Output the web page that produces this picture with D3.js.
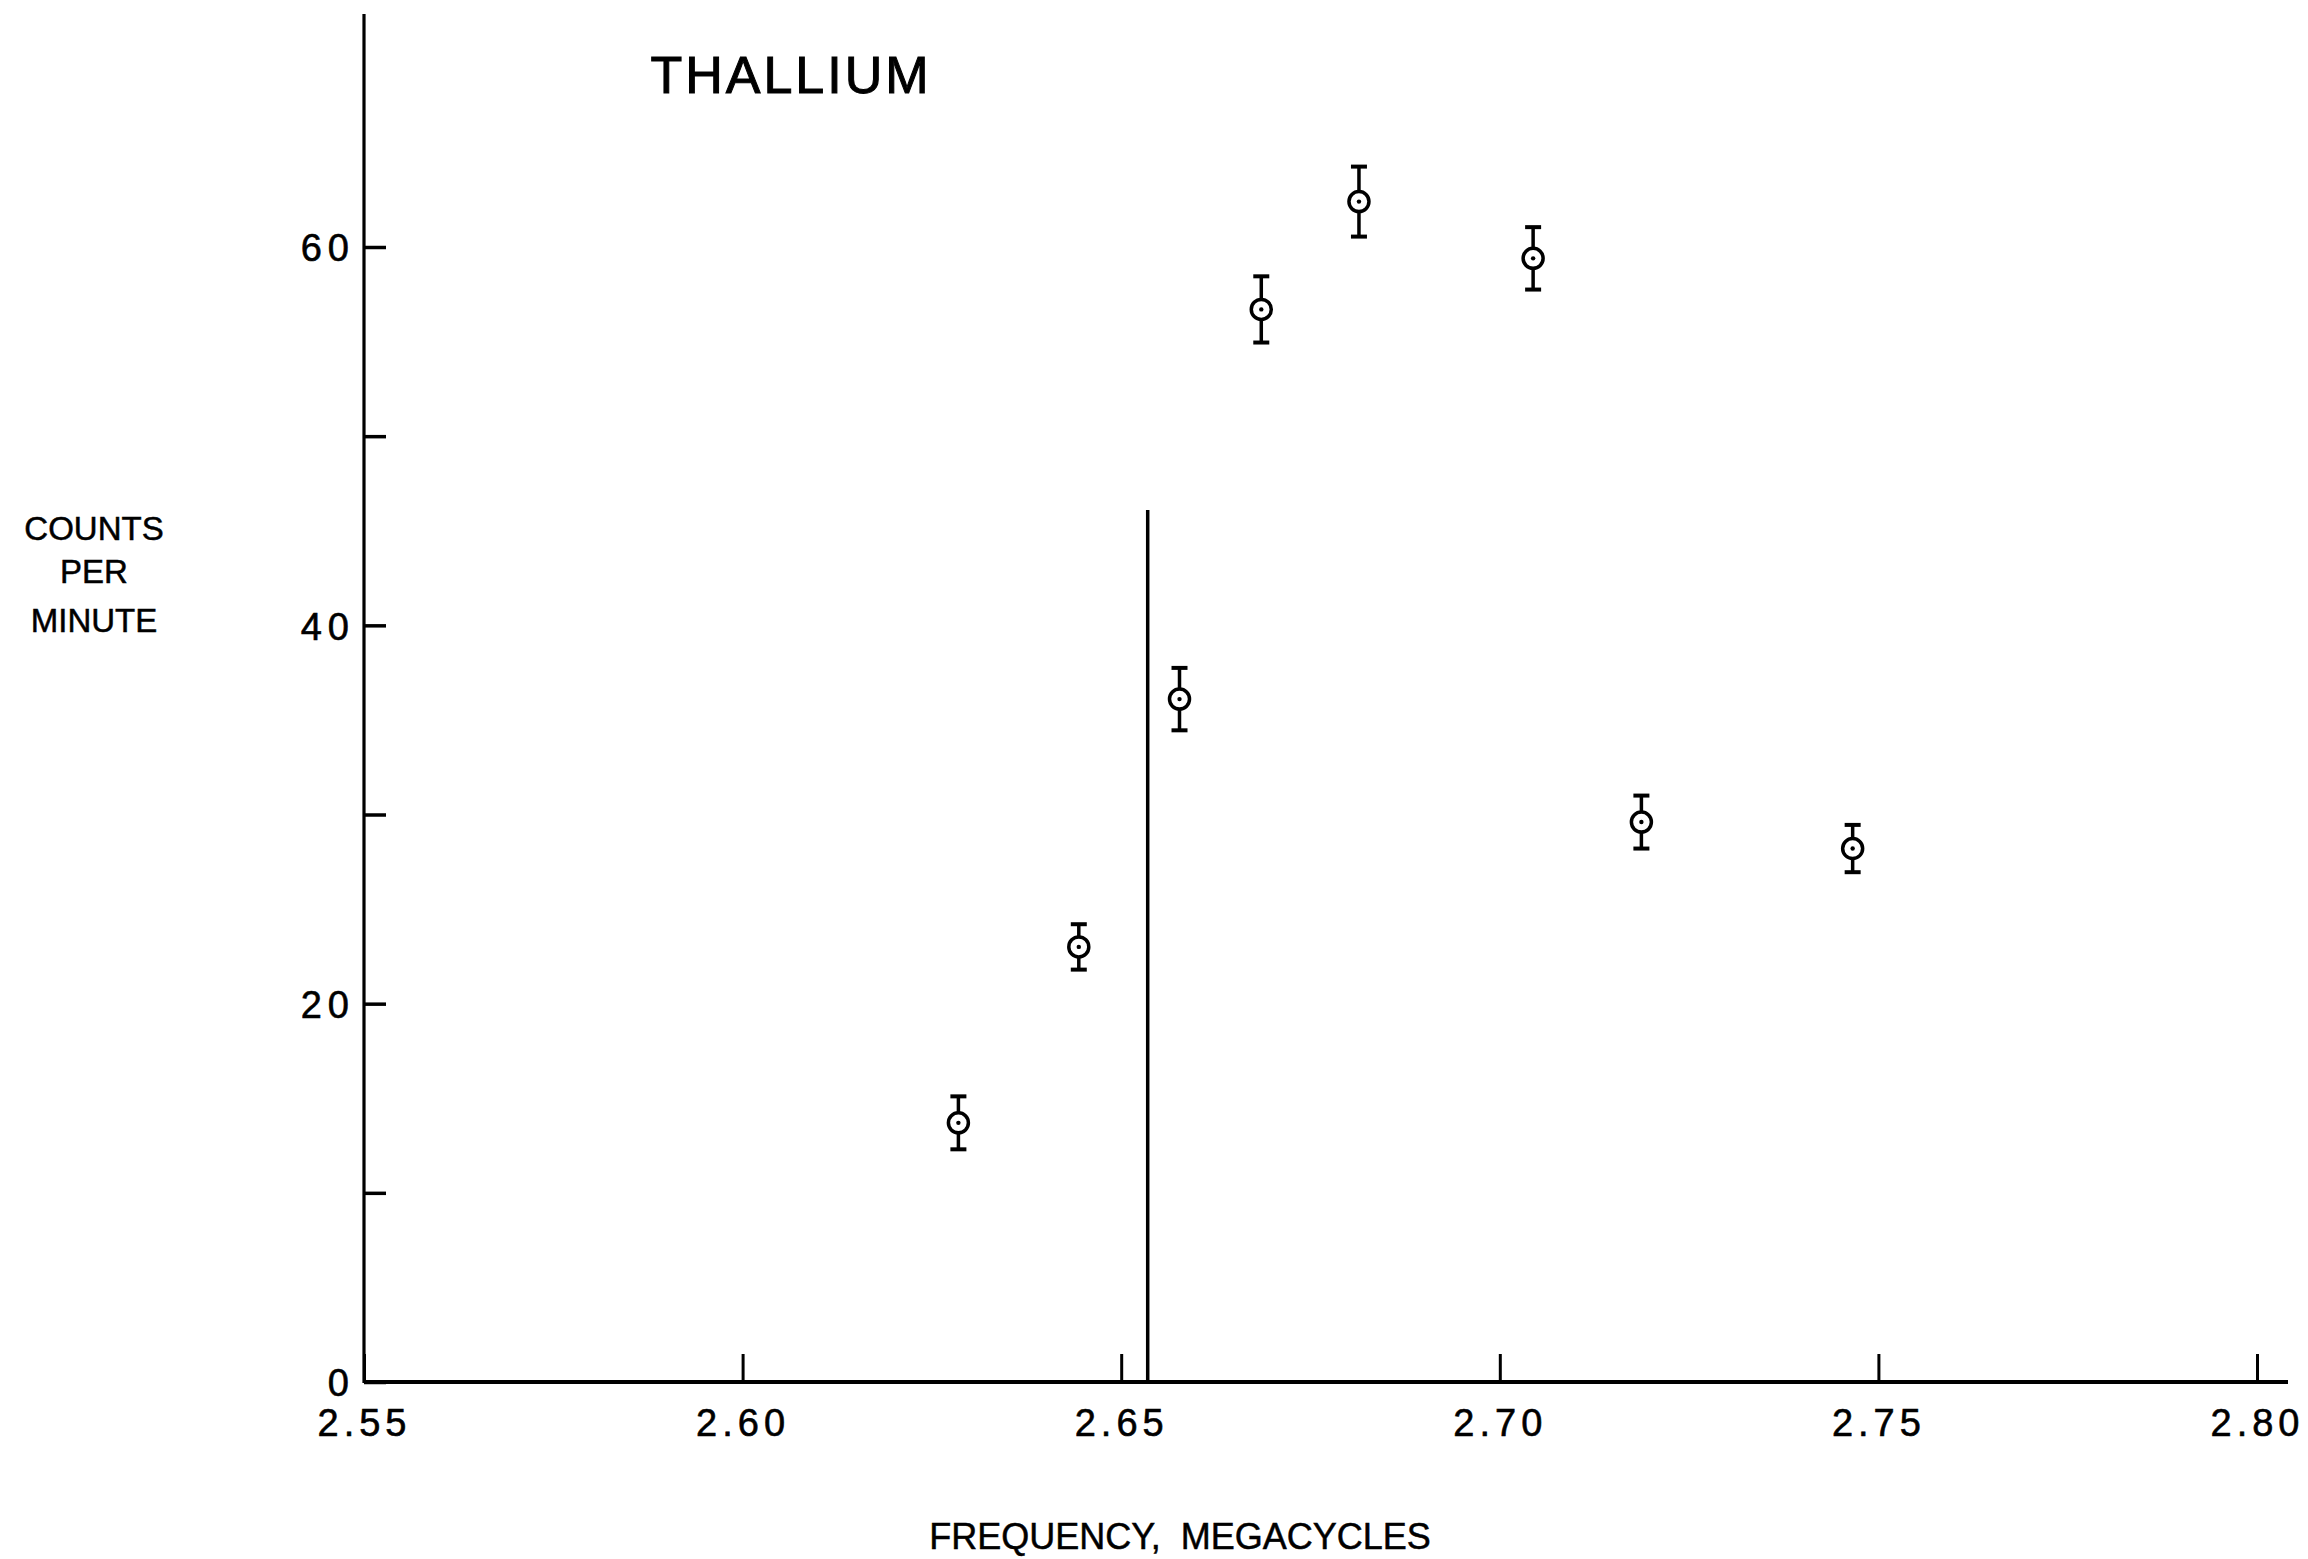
<!DOCTYPE html>
<html>
<head>
<meta charset="utf-8">
<script src="https://cdn.jsdelivr.net/npm/d3@7"></script>
<style>
  html, body { margin: 0; padding: 0; background: #fff; }
  svg { display: block; }
  text { font-family: "Liberation Sans", Arial, sans-serif; fill: #000; }
</style>
</head>
<body>
<svg id="chart" width="2308" height="1559"></svg>
<script>
// ---- data ----
const frequency = [2.6285, 2.6444, 2.6577, 2.6685, 2.6814, 2.7044, 2.7187, 2.7466];
const counts    = [13.7, 23.0, 36.1, 56.7, 62.4, 59.4, 29.6, 28.2];
const errors    = [1.4, 1.2, 1.65, 1.75, 1.85, 1.65, 1.4, 1.25];
const markerFreq = 2.6535;
const markerTop = 46.1;
const xTicks = [2.55, 2.60, 2.65, 2.70, 2.75, 2.80];
const xTickLabels = ["2.55", "2.60", "2.65", "2.70", "2.75", "2.80"];
const yTicks = [0, 10, 20, 30, 40, 50, 60];
const yTickLabels = ["0", "", "20", "", "40", "", "60"];
const title = "THALLIUM";
const yTitle = ["COUNTS", "PER", "MINUTE"];
const xTitle = "FREQUENCY,  MEGACYCLES";

// ---- scales ----
const svg = d3.select("#chart");
const x = d3.scaleLinear().domain([2.55, 2.80]).range([364, 2257]);
const y = d3.scaleLinear().domain([0, 60]).range([1382, 247]);
const xMax = x.invert(2288);
const yMax = y.invert(14);

// ---- axes ----
const xAxis = d3.axisBottom(x)
  .tickValues(xTicks)
  .tickFormat((d, i) => xTickLabels[i])
  .tickSizeInner(-28).tickSizeOuter(0).tickPadding(27);
const gx = svg.append("g").attr("transform", `translate(0,${y(0)})`).call(xAxis);
gx.select(".domain").remove();
gx.selectAll(".tick line").attr("stroke", "#000").attr("stroke-width", 3);
gx.selectAll(".tick text")
  .attr("font-size", 38).attr("letter-spacing", 5)
  .attr("fill", "#000").attr("stroke", "#000").attr("stroke-width", 0.6);
svg.append("line")
  .attr("x1", x(2.55)).attr("x2", x(xMax))
  .attr("y1", y(0)).attr("y2", y(0))
  .attr("stroke", "#000").attr("stroke-width", 4);

const yAxis = d3.axisLeft(y)
  .tickValues(yTicks)
  .tickFormat((d, i) => yTickLabels[i])
  .tickSizeInner(-22).tickSizeOuter(0).tickPadding(9);
const gy = svg.append("g").attr("transform", `translate(${x(2.55)},0)`).call(yAxis);
gy.select(".domain").remove();
gy.selectAll(".tick line").attr("stroke", "#000").attr("stroke-width", 3.5);
gy.selectAll(".tick text")
  .attr("font-size", 38).attr("letter-spacing", 6)
  .attr("fill", "#000").attr("stroke", "#000").attr("stroke-width", 0.6)
  .attr("dy", "0.36em");
svg.append("line")
  .attr("x1", x(2.55)).attr("x2", x(2.55))
  .attr("y1", y(0) + 1).attr("y2", y(yMax))
  .attr("stroke", "#000").attr("stroke-width", 3.2);

// ---- vertical marker line ----
svg.append("line")
  .attr("x1", x(markerFreq)).attr("x2", x(markerFreq))
  .attr("y1", y(0)).attr("y2", y(markerTop))
  .attr("stroke", "#000").attr("stroke-width", 3.5);

// ---- data points with error bars ----
const pts = frequency.map((f, i) => ({ f, c: counts[i], e: errors[i] }));
const g = svg.append("g").selectAll("g").data(pts).join("g");
g.append("line")
  .attr("x1", d => x(d.f)).attr("x2", d => x(d.f))
  .attr("y1", d => y(d.c + d.e)).attr("y2", d => y(d.c - d.e))
  .attr("stroke", "#000").attr("stroke-width", 3.5);
g.append("line")
  .attr("x1", d => x(d.f) - 8).attr("x2", d => x(d.f) + 8)
  .attr("y1", d => y(d.c + d.e)).attr("y2", d => y(d.c + d.e))
  .attr("stroke", "#000").attr("stroke-width", 4);
g.append("line")
  .attr("x1", d => x(d.f) - 8).attr("x2", d => x(d.f) + 8)
  .attr("y1", d => y(d.c - d.e)).attr("y2", d => y(d.c - d.e))
  .attr("stroke", "#000").attr("stroke-width", 4);
g.append("circle")
  .attr("cx", d => x(d.f)).attr("cy", d => y(d.c)).attr("r", 10)
  .attr("fill", "#fff").attr("stroke", "#000").attr("stroke-width", 3.5);
g.append("circle")
  .attr("cx", d => x(d.f)).attr("cy", d => y(d.c)).attr("r", 2.2)
  .attr("fill", "#000");

// ---- titles ----
svg.append("text")
  .attr("x", 791).attr("y", 93)
  .attr("text-anchor", "middle")
  .attr("font-size", 52).attr("letter-spacing", 3)
  .attr("stroke", "#000").attr("stroke-width", 1)
  .text(title);

const yl = [540, 583, 632];
svg.append("g").selectAll("text").data(yTitle).join("text")
  .attr("x", 94).attr("y", (d, i) => yl[i])
  .attr("text-anchor", "middle")
  .attr("font-size", 33)
  .attr("stroke", "#000").attr("stroke-width", 0.5)
  .text(d => d);

svg.append("text")
  .attr("x", 1180).attr("y", 1549)
  .attr("text-anchor", "middle")
  .attr("font-size", 36)
  .attr("stroke", "#000").attr("stroke-width", 0.5)
  .style("white-space", "pre")
  .text(xTitle);
</script>
</body>
</html>
